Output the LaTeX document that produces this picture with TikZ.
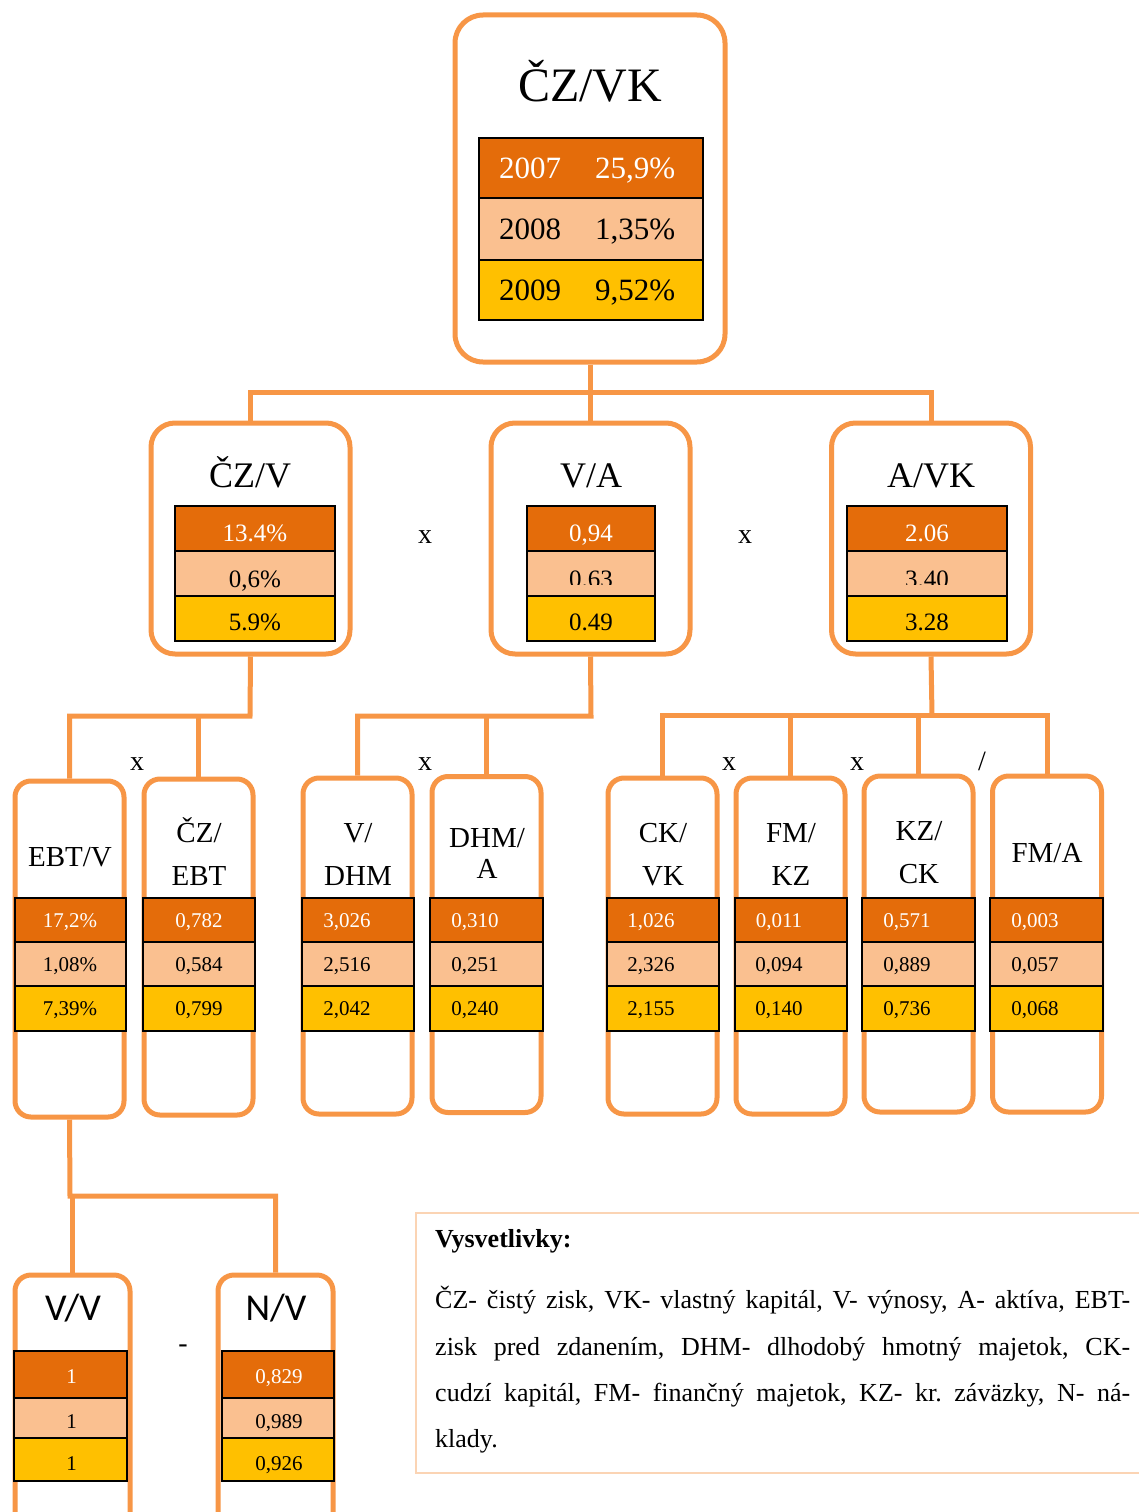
\documentclass[tikz,border=0pt]{standalone}
\usepackage{fontspec}
\setmainfont{Liberation Serif}
\newfontfamily\sansttl{Carlito}
\definecolor{frameC}{HTML}{F79646}
\definecolor{cA}{HTML}{E46C0A}
\definecolor{cB}{HTML}{FAC090}
\definecolor{cC}{HTML}{FFC000}
\definecolor{legC}{HTML}{FBD4B4}
\newcommand\fsz[1]{\fontsize{#1}{#1}\selectfont}
\frenchspacing
\begin{document}
\begin{tikzpicture}[x=1pt,y=-1pt,
  frame/.style={draw=frameC, line width=5pt, fill=white, rectangle, inner sep=0pt},
  frameL/.style={frame, rounded corners=28pt},
  frameM/.style={frame, rounded corners=24pt},
  frameS/.style={frame, rounded corners=16pt},
  link/.style={draw=frameC, line width=5pt},
  cell/.style={draw=black, line width=1.8pt, rectangle, inner sep=0pt},
  rowA/.style={cell, fill=cA},
  rowB/.style={cell, fill=cB},
  rowC/.style={cell, fill=cC},
  txt/.style={inner sep=0pt, anchor=base},
  op/.style={txt, font=\fsz{28}}
]
\useasboundingbox (0,0) rectangle (1139,1512);

% ---------- boxes ----------
\node[frameL, minimum width=270, minimum height=347] (top) at (590,188.5) {};

\node[frameM, minimum width=199, minimum height=231] (czv) at (250.5,538.5) {};
\node[frameM, minimum width=199, minimum height=231] (va)  at (590.5,538.5) {};
\node[frameM, minimum width=199, minimum height=231] (avk) at (931,538.5) {};

\foreach \nm/\cx/\cy in {ebtv/69.5/949, czebt/198.5/947, vdhm/357.5/946, dhma/486.5/944.5,
  ckvk/662.5/946, fmkz/790.5/946, kzck/918.5/944, fma/1047/944}{
  \node[frameS, minimum width=109, minimum height=336] (\nm) at (\cx,\cy) {};
}

\node[frameS, minimum width=115, minimum height=265] (vv) at (72.5,1407.5) {};
\node[frameS, minimum width=115, minimum height=265] (nv) at (275.5,1407.5) {};

% ---------- connectors ----------
\coordinate (busA) at (590,392);
\draw[link] (top.south) -- (busA);
\draw[link] (czv.north) -- (czv.north |- busA) -- (avk.north |- busA) -- (avk.north);
\draw[link] (va.north) -- (va.north |- busA);

\coordinate (busB) at (250,716);
\draw[link] (czv.south) -- (busB) -- (ebtv.north |- busB) -- (ebtv.north);
\draw[link] (czebt.north) -- (czebt.north |- busB);

\coordinate (busC) at (591,716);
\draw[link] (va.south) -- (busC) -- (vdhm.north |- busC) -- (vdhm.north);
\draw[link] (dhma.north) -- (dhma.north |- busC);

\coordinate (busD) at (932,715);
\draw[link] (avk.south) -- (busD);
\draw[link] (ckvk.north) -- (ckvk.north |- busD) -- (fma.north |- busD) -- (fma.north);
\draw[link] (fmkz.north) -- (fmkz.north |- busD);
\draw[link] (kzck.north) -- (kzck.north |- busD);

\coordinate (busE) at (70,1196);
\draw[link] (ebtv.south) -- (busE) -- (nv.north |- busE) -- (nv.north);
\draw[link] (vv.north) -- (vv.north |- busE);

% ---------- top table ----------
\node[rowA, minimum width=224, minimum height=60] (top-a) at (591,168) {};
\node[rowB, minimum width=224, minimum height=62] (top-b) at (591,229) {};
\node[rowC, minimum width=224, minimum height=60] (top-c) at (591,290) {};
\begin{scope}[every node/.style={inner sep=0pt, anchor=base west, font=\fsz{31}}]
  \node[text=white] (y07) at (499,178) {2007};
  \node[text=white] (p07) at (595,178) {25,9\%};
  \node (y08) at (499,239) {2008};
  \node (p08) at (595,239) {1,35\%};
  \node (y09) at (499,300) {2009};
  \node (p09) at (595,300) {9,52\%};
\end{scope}
\node[txt, font=\fsz{48}] (t-top) at (590,101) {ČZ/VK};

% ---------- second level ----------
% \bl: baseline of the middle value, \cut: lower edge of its text frame
\foreach \nm/\xl/\xr/\va/\vb/\vc/\bl/\cut in {czv/175/335/{13.4\%}/{0,6\%}/{5.9\%}/587/596,
  va/527/655/{0,94}/{0.63}/{0.49}/587/584, avk/847/1007/{2.06}/{3.40}/{3.28}/587/584}{
  \node[rowA, minimum width=\xr-\xl, minimum height=45] (\nm-a) at ({(\xl+\xr)/2},528.5) {};
  \node[rowB, minimum width=\xr-\xl, minimum height=45] (\nm-b) at ({(\xl+\xr)/2},573.5) {};
  \node[rowC, minimum width=\xr-\xl, minimum height=45] (\nm-c) at ({(\xl+\xr)/2},618.5) {};
  \node[txt, font=\fsz{25}, text=white] (\nm-ta) at ({(\xl+\xr)/2},541) {\va};
  \begin{scope}
    \clip (\xl,552) rectangle (\xr,\cut);
    \node[txt, font=\fsz{25}] (\nm-tb) at ({(\xl+\xr)/2},\bl) {\vb};
  \end{scope}
  \node[txt, font=\fsz{25}] (\nm-tc) at ({(\xl+\xr)/2},630) {\vc};
}
\node[txt, font=\fsz{36}] (t-czv) at (250,487) {ČZ/V};
\node[txt, font=\fsz{36}] (t-va)  at (591,487) {V/A};
\node[txt, font=\fsz{36}] (t-avk) at (931,487) {A/VK};
\node[op] (op1) at (425,543) {x};
\node[op] (op2) at (745,543) {x};

% ---------- third level ----------
\foreach \nm/\xl/\xr/\tx/\va/\vb/\vc in {
  ebtv/15/126/70/{17,2\%}/{1,08\%}/{7,39\%},
  czebt/143/255/199/{0,782}/{0,584}/{0,799},
  vdhm/302/414/347/{3,026}/{2,516}/{2,042},
  dhma/430/543/475/{0,310}/{0,251}/{0,240},
  ckvk/607/719/651/{1,026}/{2,326}/{2,155},
  fmkz/735/847/779/{0,011}/{0,094}/{0,140},
  kzck/862/975/907/{0,571}/{0,889}/{0,736},
  fma/990/1103/1035/{0,003}/{0,057}/{0,068}}{
  \node[rowA, minimum width=\xr-\xl, minimum height=44] (\nm-a) at ({(\xl+\xr)/2},920) {};
  \node[rowB, minimum width=\xr-\xl, minimum height=44] (\nm-b) at ({(\xl+\xr)/2},964) {};
  \node[rowC, minimum width=\xr-\xl, minimum height=45] (\nm-c) at ({(\xl+\xr)/2},1008.5) {};
  \node[txt, font=\fsz{21}, text=white] (\nm-ta) at (\tx,927) {\va};
  \node[txt, font=\fsz{21}] (\nm-tb) at (\tx,971) {\vb};
  \node[txt, font=\fsz{21}] (\nm-tc) at (\tx,1015) {\vc};
}
\begin{scope}[every node/.style={txt, font=\fsz{29}}]
  \node (t-ebtv) at (70,866) {EBT/V};
  \node (t-czebt1) at (199,842) {ČZ/};
  \node (t-czebt2) at (199,885) {EBT};
  \node (t-vdhm1) at (358,842) {V/};
  \node (t-vdhm2) at (358,885) {DHM};
  \node (t-dhma1) at (487,847) {DHM/};
  \node (t-dhma2) at (487,878) {A};
  \node (t-ckvk1) at (663,842) {CK/};
  \node (t-ckvk2) at (663,885) {VK};
  \node (t-fmkz1) at (791,842) {FM/};
  \node (t-fmkz2) at (791,885) {KZ};
  \node (t-kzck1) at (919,840) {KZ/};
  \node (t-kzck2) at (919,883) {CK};
  \node (t-fma) at (1047,862) {FM/A};
\end{scope}
\node[op] (op3) at (137,770) {x};
\node[op] (op4) at (425,770) {x};
\node[op] (op5) at (729,770) {x};
\node[op] (op6) at (857,770) {x};
\node[op] (op7) at (982,770) {/};

% ---------- fourth level ----------
\foreach \nm/\xl/\xr/\va/\vb/\vc in {vv/14/127/1/1/1, nv/222/334/{0,829}/{0,989}/{0,926}}{
  \node[rowA, minimum width=\xr-\xl, minimum height=47] (\nm-a) at ({(\xl+\xr)/2},1374.5) {};
  \node[rowB, minimum width=\xr-\xl, minimum height=40] (\nm-b) at ({(\xl+\xr)/2},1418) {};
  \node[rowC, minimum width=\xr-\xl, minimum height=43] (\nm-c) at ({(\xl+\xr)/2},1459.5) {};
  \node[txt, font=\fsz{21}, text=white] (\nm-ta) at ({(\xl+\xr)/2+1},1383) {\va};
  \node[txt, font=\fsz{21}] (\nm-tb) at ({(\xl+\xr)/2+1},1428) {\vb};
  \node[txt, font=\fsz{21}] (\nm-tc) at ({(\xl+\xr)/2+1},1470) {\vc};
}
\node[txt, font=\sansttl\fsz{38}] (t-vv) at (73,1320) {V/V};
\node[txt, font=\sansttl\fsz{38}] (t-nv) at (276,1320) {N/V};
\node[op] (op8) at (183,1352) {-};

% ---------- legend ----------
\node[draw=legC, line width=2pt, rectangle, inner sep=0pt, anchor=north west,
      minimum width=760, minimum height=260] (legend) at (415,1212) {};
\begin{scope}[every node/.style={inner sep=0pt, anchor=base west, font=\fsz{26}}]
  \node[font=\fsz{26}\bfseries] (leg-h) at (435,1247) {Vysvetlivky:};
  \node (leg-1) at (435,1308) {\makebox[695pt][s]{ČZ- čistý zisk, VK- vlastný kapitál, V- výnosy, A- aktíva, EBT-}};
  \node (leg-2) at (435,1355) {\makebox[695pt][s]{zisk pred zdanením, DHM- dlhodobý hmotný majetok, CK-}};
  \node (leg-3) at (435,1401) {\makebox[695pt][s]{cudzí kapitál, FM- finančný majetok, KZ- kr. záväzky, N- ná-}};
  \node (leg-4) at (435,1447) {klady.};
\end{scope}
\end{tikzpicture}
\end{document}
